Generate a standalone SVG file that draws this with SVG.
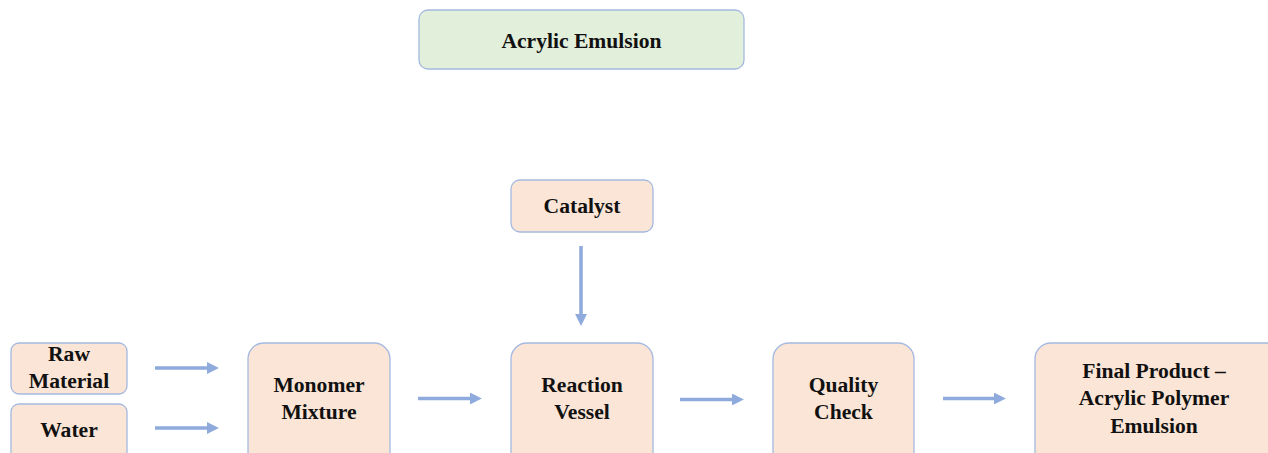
<svg xmlns="http://www.w3.org/2000/svg" width="1268" height="453" viewBox="0 0 1268 453">
  <style>
    .box { fill: #fbe5d6; stroke: #a4b9e0; stroke-width: 1.3; }
    .title { fill: #e2efda; stroke: #a4b9e0; stroke-width: 1.3; }
    text { font-family: "Liberation Serif", "Times New Roman", serif; font-weight: bold; font-size: 21.6px; fill: #111; text-anchor: middle; }
    .flow { stroke: #8faadc; stroke-width: 3.5; fill: none; marker-end: url(#head); }
  </style>
  <defs>
    <marker id="head" viewBox="0 0 10 10" refX="0" refY="5" markerWidth="3.4" markerHeight="3.4" markerUnits="strokeWidth" orient="auto">
      <path d="M0,0 L10,5 L0,10 Z" fill="#8faadc"/>
    </marker>
  </defs>

  <g id="title-node">
    <rect class="title" x="419" y="10" width="325" height="59" rx="9"/>
    <text x="581.5" y="48">Acrylic Emulsion</text>
  </g>

  <g id="catalyst">
    <rect class="box" x="511" y="180" width="142" height="52" rx="9"/>
    <text x="582" y="213">Catalyst</text>
  </g>

  <g id="raw-material">
    <rect class="box" x="11" y="343" width="116" height="51" rx="8"/>
    <text x="69" y="361">Raw</text>
    <text x="69" y="388">Material</text>
  </g>

  <g id="water">
    <rect class="box" x="11" y="404" width="116" height="60" rx="8"/>
    <text x="69" y="437">Water</text>
  </g>

  <g id="monomer-mixture">
    <rect class="box" x="248" y="343" width="142" height="130" rx="16"/>
    <text x="319" y="392">Monomer</text>
    <text x="319" y="419">Mixture</text>
  </g>

  <g id="reaction-vessel">
    <rect class="box" x="511" y="343" width="142" height="130" rx="16"/>
    <text x="582" y="392">Reaction</text>
    <text x="582" y="419">Vessel</text>
  </g>

  <g id="quality-check">
    <rect class="box" x="773" y="343" width="141" height="130" rx="16"/>
    <text x="843.5" y="392">Quality</text>
    <text x="843.5" y="419">Check</text>
  </g>

  <g id="final-product">
    <rect class="box" x="1035" y="343" width="250" height="130" rx="16"/>
    <text x="1154" y="378">Final Product –</text>
    <text x="1154" y="405">Acrylic Polymer</text>
    <text x="1154" y="433">Emulsion</text>
  </g>

  <g id="connectors">
    <line class="flow" x1="155" y1="368" x2="207" y2="368"/>
    <line class="flow" x1="155" y1="428" x2="207" y2="428"/>
    <line class="flow" x1="418" y1="398.5" x2="470" y2="398.5"/>
    <line class="flow" x1="680" y1="399.5" x2="732" y2="399.5"/>
    <line class="flow" x1="943" y1="398.5" x2="994" y2="398.5"/>
    <line class="flow" x1="581" y1="246" x2="581" y2="314"/>
  </g>
</svg>
